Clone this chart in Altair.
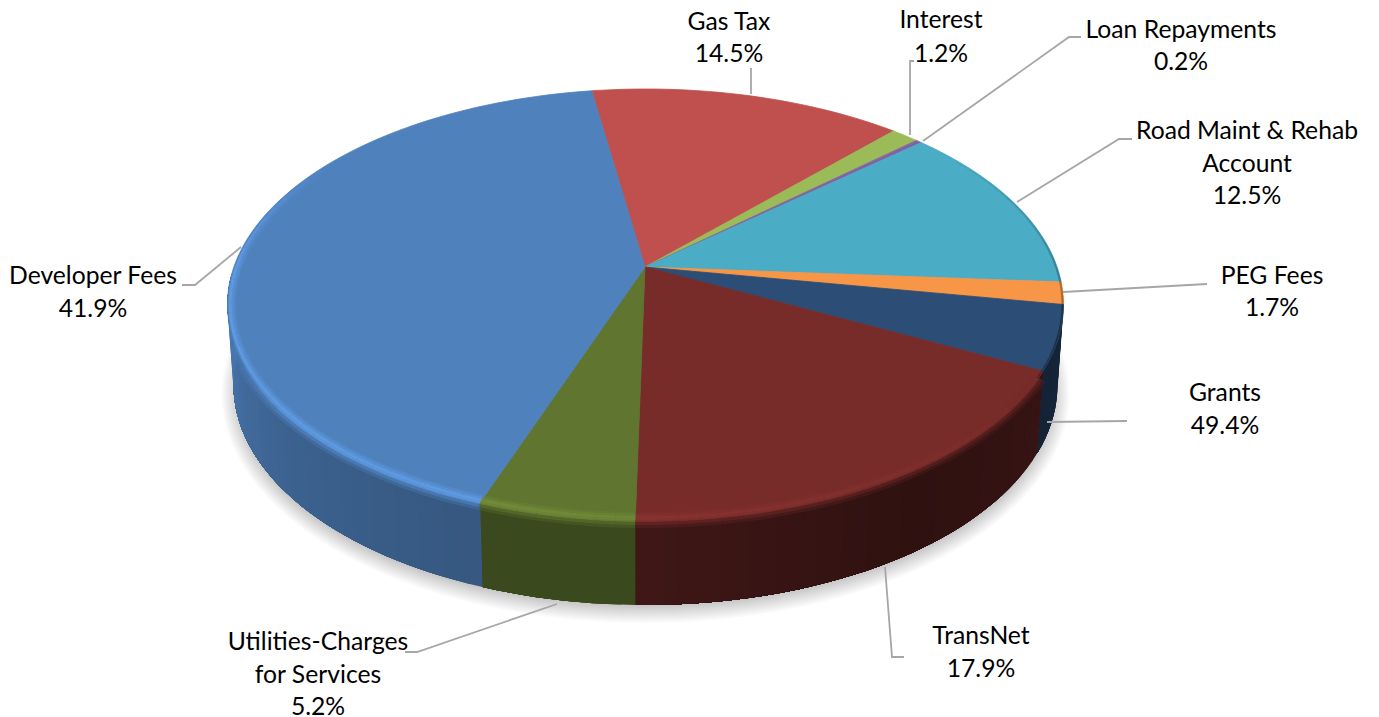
import math
import altair as alt
import pandas as pd

# ---- chart values ----
categories = ["Gas Tax", "Interest", "Loan Repayments", "Road Maint & Rehab Account", "PEG Fees",
              "Grants", "TransNet", "Utilities-Charges for Services", "Developer Fees"]
# visible sweep of each slice on the drawn ellipse, degrees, clockwise
sweep_deg = [43.8, 4.0, 0.9, 42.7, 6.0, 18.0, 73.4, 21.9, 149.3]
slice_colors = ["#C0504D", "#9BBB59", "#8064A2", "#4BACC6", "#F79646",
                "#2C4D75", "#772C2A", "#5F7530", "#4F81BD"]
label_lines = [
    ["Gas Tax", "14.5%"], ["Interest", "1.2%"], ["Loan Repayments", "0.2%"],
    ["Road Maint & Rehab", "Account", "12.5%"], ["PEG Fees", "1.7%"], ["Grants", "49.4%"],
    ["TransNet", "17.9%"], ["Utilities-Charges", "for Services", "5.2%"], ["Developer Fees", "41.9%"],
]

# ---- layout (page pixels) ----
START = -97.4
APEX = (645, 267)
TOP = dict(cx=645.5, cy=304.5, rx=418, ry=215.5)
BOT = dict(cx=645.5, cy=385, rx=412, ry=220)
label_anchor = [(729, 23, 32), (941, 21, 34), (1181, 31, 32), (1247, 132, 32.5), (1272, 277, 32),
                (1225, 394, 33), (981, 637, 33), (318, 643, 32.5), (93, 277, 33)]
leaders = [
    [(751, 94), (751, 68)],
    [(910, 135), (910, 61), (914, 61)],
    [(923, 141), (1069, 37), (1081, 37)],
    [(1017, 202), (1119, 139), (1132, 139)],
    [(1063, 292), (1207, 284)],
    [(1047, 422), (1127, 421)],
    [(885, 567), (892, 657), (904, 657)],
    [(557, 604), (417, 652), (405, 652)],
    [(241, 247), (195, 285), (182, 285)],
]


def pt(e, t, dr=0.0):
    a = math.radians(t)
    return [e["cx"] + (e["rx"] - dr) * math.cos(a), e["cy"] + (e["ry"] - dr) * math.sin(a)]


def rgb(h):
    return [int(h[i:i + 2], 16) for i in (1, 3, 5)]


def shade(h, m):
    return "#%02x%02x%02x" % tuple(max(0, min(255, round(c * m))) for c in rgb(h))


def interp(knots, t):
    if t <= knots[0][0]:
        return knots[0][1]
    for (a, va), (b, vb) in zip(knots, knots[1:]):
        if t <= b:
            return va + (vb - va) * (t - a) / (b - a)
    return knots[-1][1]


def poly(points, fill, alpha=1.0):
    ring = [[round(x, 2), round(y, 2)] for x, y in points]
    ring.append(ring[0])
    return {"type": "Feature", "geometry": {"type": "Polygon", "coordinates": [ring]},
            "properties": {"fill": fill, "alpha": alpha}}


# slice boundaries
bounds = []
t0 = START
for s, c in zip(sweep_deg, slice_colors):
    bounds.append((t0, t0 + s, c))
    t0 += s


def frange(a, b, step):
    n = max(1, int(math.ceil((b - a) / step)))
    return [a + (b - a) * i / n for i in range(n + 1)]


# soft shadow
shadow = []
N = 12
for i in range(N):
    k = i / (N - 1)
    e = dict(cx=645.5, cy=394, rx=424 - 18 * k, ry=229 - 18 * k)
    shadow.append(poly([pt(e, t) for t in range(0, 360, 3)], "#000000", 0.02))

# side wall: each colour step covers the rest of its slice, so no seams show between steps
side_knots = [(-10, 0.7), (0, 0.5), (18, 0.45), (50, 0.39), (91, 0.53), (92, 0.62), (113, 0.62),
              (114, 0.68), (150, 0.76), (180, 0.9), (195, 0.9)]
side = []
for a, b, c in bounds:
    lo, hi = max(a, -8), min(b, 188)
    if lo < hi:
        pts = frange(lo, hi, 2)
        for u, v in zip(pts, pts[1:]):
            rest = frange(u, hi, 2)
            ring = [pt(TOP, t) for t in rest] + [pt(BOT, t) for t in reversed(rest)]
            side.append(poly(ring, shade(c, interp(side_knots, (u + v) / 2))))

# top face wedges
top = []
for a, b, c in bounds:
    top.append(poly([APEX] + [pt(TOP, t) for t in frange(a, b, 1.5)], c))

# bevel along the rim
hi_knots = [(25, 0.0), (110, 1.0), (190, 1.0), (222, 0.0)]
bands = [(8, 6, 0.3), (6, 4, 0.6), (4, 1, 0.95), (1, -2, 0.8), (-2, -5, 0.45), (-5, -8, 0.2)]
bevel = []
for a, b, c in bounds:
    lo, hi = max(a, 20), min(b, 222)
    if lo >= hi:
        continue
    pts = frange(lo, hi, 3)
    for u, v in zip(pts, pts[1:]):
        m = (u + v) / 2
        h = interp(hi_knots, m)
        col = shade(c, 1 + 0.2 * h)
        for d1, d2, al in bands:
            # the outer bands only lie on the wall, which ends near the left extreme
            if d2 < 1:
                al *= interp([(150, 1.0), (172, 0.0)], m)
                if al <= 0:
                    continue
            bevel.append(poly([pt(TOP, u, d1), pt(TOP, v, d1), pt(TOP, v, d2), pt(TOP, u, d2)],
                              col, round(al, 3)))
# dark edge on the right-hand rim
ts = frange(-45, 20, 3)
for t1, t2 in zip(ts, ts[1:]):
    m = (t1 + t2) / 2
    al = interp([(-45, 0), (-10, 0.25), (10, 0.35), (20, 0.2)], m)
    bevel.append(poly([pt(TOP, t1, 2), pt(TOP, t2, 2), pt(TOP, t2, 0), pt(TOP, t1, 0)], "#000000", round(al, 3)))

lines = [{"type": "Feature", "geometry": {"type": "LineString", "coordinates": [list(p) for p in l]},
          "properties": {}} for l in leaders]

rows = []
for lab, (x, y, dy) in zip(label_lines, label_anchor):
    for i, s in enumerate(lab):
        rows.append({"x": x, "y": y + i * dy, "text": s})
labels_df = pd.DataFrame(rows)

PROJ = dict(type="identity", scale=1, translate=[-8, -8])


def fill_layer(features, with_stroke):
    base = alt.Chart(alt.Data(values=features)).mark_geoshape(strokeWidth=0.8 if with_stroke else 0)
    enc = dict(fill=alt.Fill("properties.fill:N", scale=None))
    if with_stroke:
        enc["stroke"] = alt.Stroke("properties.fill:N", scale=None)
    else:
        enc["opacity"] = alt.Opacity("properties.alpha:Q", scale=None)
    return base.encode(**enc).project(**PROJ)


leader_layer = alt.Chart(alt.Data(values=lines)).mark_geoshape(
    filled=False, stroke="#A6A6A6", strokeWidth=1.8).project(**PROJ)

text_layer = alt.Chart(labels_df).mark_text(
    font="Lato", fontSize=24.7, color="#000000", align="center", baseline="middle"
).encode(longitude="x:Q", latitude="y:Q", text="text:N").project(**PROJ)

chart = alt.layer(
    fill_layer(shadow, False),
    fill_layer(side, False),
    fill_layer(top, True),
    fill_layer(bevel, False),
    leader_layer,
    text_layer,
).properties(width=1363, height=709, padding=0, autosize=alt.AutoSizeParams(type="none"),
             background="#FFFFFF").configure_view(stroke=None)

chart.save("out.html", embed_options={"renderer": "svg", "actions": False})
